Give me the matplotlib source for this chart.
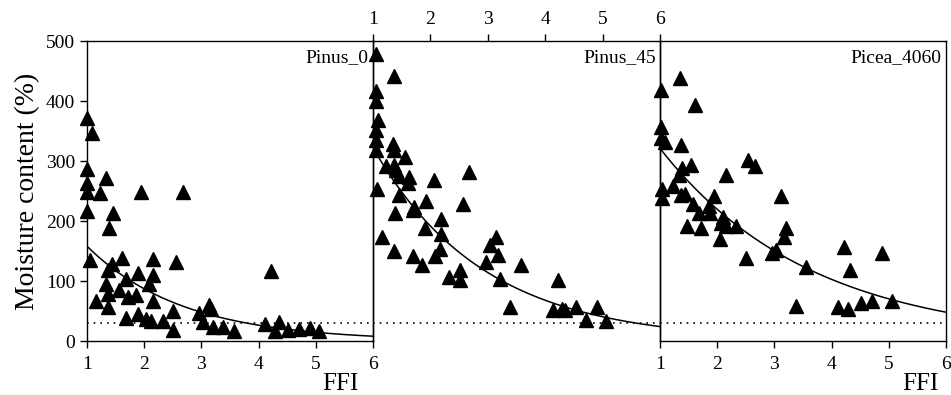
import numpy as np
import matplotlib
matplotlib.use("Agg")
import matplotlib.pyplot as plt

plt.rcParams['font.family'] = ['Liberation Serif', 'DejaVu Serif']

panel_names = ["Pinus_0", "Pinus_45", "Picea_4060"]

ffi_p0 = [1.0, 1.09, 1.0, 1.0, 1.0, 1.34, 1.23, 1.0, 1.46, 1.38, 1.94, 2.68, 1.05, 1.44, 1.62,
          1.37, 2.16, 2.56, 1.90, 2.16, 1.69, 1.34, 2.09, 1.37, 1.56, 1.72, 1.85, 1.15, 2.16,
          1.36, 1.69, 1.90, 2.04, 2.12, 2.32, 2.51, 2.50, 2.95, 3.13, 3.16, 3.02, 3.20, 3.38,
          3.57, 4.21, 4.12, 4.35, 4.28, 4.52, 4.71, 4.89, 5.06]
mc_p0 = [371, 346, 286, 263, 249, 271, 246, 217, 214, 189, 249, 249, 135, 129, 139,
         119, 137, 132, 114, 110, 104, 95, 95, 79, 85, 74, 76, 66, 66,
         56, 39, 45, 36, 34, 34, 50, 18, 47, 60, 54, 32, 24, 24,
         16, 116, 29, 32, 16, 18, 20, 22, 17]

ffi_p45 = [1.05, 1.36, 1.05, 1.05, 1.09, 1.05, 1.05, 1.05, 1.34, 1.37, 1.56, 1.23, 1.37, 1.40,
           1.46, 1.63, 1.61, 2.07, 2.68, 1.07, 1.45, 1.72, 1.69, 1.92, 2.56, 1.39, 2.18, 1.91,
           2.18, 1.16, 3.14, 3.04, 2.17, 2.08, 1.37, 1.69, 1.85, 3.18, 2.96, 3.58, 2.51, 2.33,
           2.52, 3.21, 4.22, 3.38, 4.13, 4.29, 4.35, 4.53, 4.90, 4.71, 5.06]
mc_p45 = [479, 442, 417, 400, 369, 352, 335, 319, 329, 318, 307, 291, 293, 285,
          275, 274, 263, 269, 282, 254, 244, 224, 218, 233, 229, 214, 204, 189,
          178, 173, 173, 160, 154, 141, 150, 141, 127, 143, 132, 127, 119, 107,
          101, 103, 101, 56, 52, 53, 52, 56, 56, 35, 34]

ffi_pc = [1.35, 1.01, 1.62, 1.01, 1.01, 1.09, 1.36, 2.54, 2.66, 1.54, 1.38, 1.33, 2.15, 1.23,
          1.04, 1.03, 1.36, 1.44, 1.95, 3.12, 1.57, 1.68, 1.85, 1.87, 2.11, 2.07, 2.15, 2.32,
          1.47, 1.72, 2.05, 3.20, 3.17, 4.21, 4.88, 2.95, 3.03, 2.50, 3.56, 4.32, 3.38, 4.11,
          4.28, 4.51, 4.71, 5.05]
mc_pc = [438, 418, 393, 356, 338, 332, 327, 302, 291, 293, 288, 277, 276, 258,
         253, 238, 243, 245, 242, 242, 228, 214, 225, 213, 207, 196, 191, 191,
         191, 189, 170, 188, 174, 157, 147, 146, 152, 138, 124, 118, 58, 57,
         53, 64, 66, 67]

# fitted exponential curves: y = a * exp(-b * (FFI - 1))
fit_a = [158, 322, 321]
fit_b = [0.597, 0.519, 0.38]
threshold = 30

x_ticks = [1, 2, 3, 4, 5, 6]
y_ticks = [0, 100, 200, 300, 400, 500]

W, H = 951, 395
fig = plt.figure(figsize=(W / 100, H / 100), dpi=100)

lefts = [87, 373, 660]
rights = [373, 660, 946]
top_px, bot_px = 41, 341

data = [(ffi_p0, mc_p0), (ffi_p45, mc_p45), (ffi_pc, mc_pc)]
axes = []
for i in range(3):
    ax = fig.add_axes([lefts[i] / W, 1 - bot_px / H, (rights[i] - lefts[i]) / W, (bot_px - top_px) / H])
    ax.set_facecolor('none')
    ax.set_xlim(1, 6)
    ax.set_ylim(0, 500)
    for s in ax.spines.values():
        s.set_linewidth(1.0)
    xs, ys = data[i]
    ax.plot(xs, ys, linestyle='none', marker='^', markersize=10.5, color='black', clip_on=False, zorder=3)
    xx = np.linspace(1, 6, 200)
    ax.plot(xx, fit_a[i] * np.exp(-fit_b[i] * (xx - 1)), color='black', lw=1.1, zorder=2)
    ax.axhline(threshold, color='black', lw=1.2, linestyle=(0, (1, 3)), zorder=1)
    ax.text(0.985, 0.945, panel_names[i], transform=ax.transAxes, ha='right', va='center', fontsize=14)
    ax.set_xticks(x_ticks)
    ax.tick_params(direction='out', length=5, width=1.0, labelsize=14)
    if i == 0:
        ax.set_yticks(y_ticks)
        ax.set_ylabel('Moisture content (%)', fontsize=20, labelpad=4)
        ax.tick_params(axis='x', pad=6)
    else:
        ax.set_yticks([])
    if i == 1:
        ax.spines['bottom'].set_visible(False)
        ax.xaxis.tick_top()
        ax.tick_params(axis='x', pad=4)
    if i == 2:
        ax.tick_params(axis='x', pad=6)
    axes.append(ax)

fig.text(340 / W, 1 - 384 / H, 'FFI', ha='center', va='center', fontsize=18)
fig.text(920 / W, 1 - 384 / H, 'FFI', ha='center', va='center', fontsize=18)

fig.savefig('out.png', dpi=100)
